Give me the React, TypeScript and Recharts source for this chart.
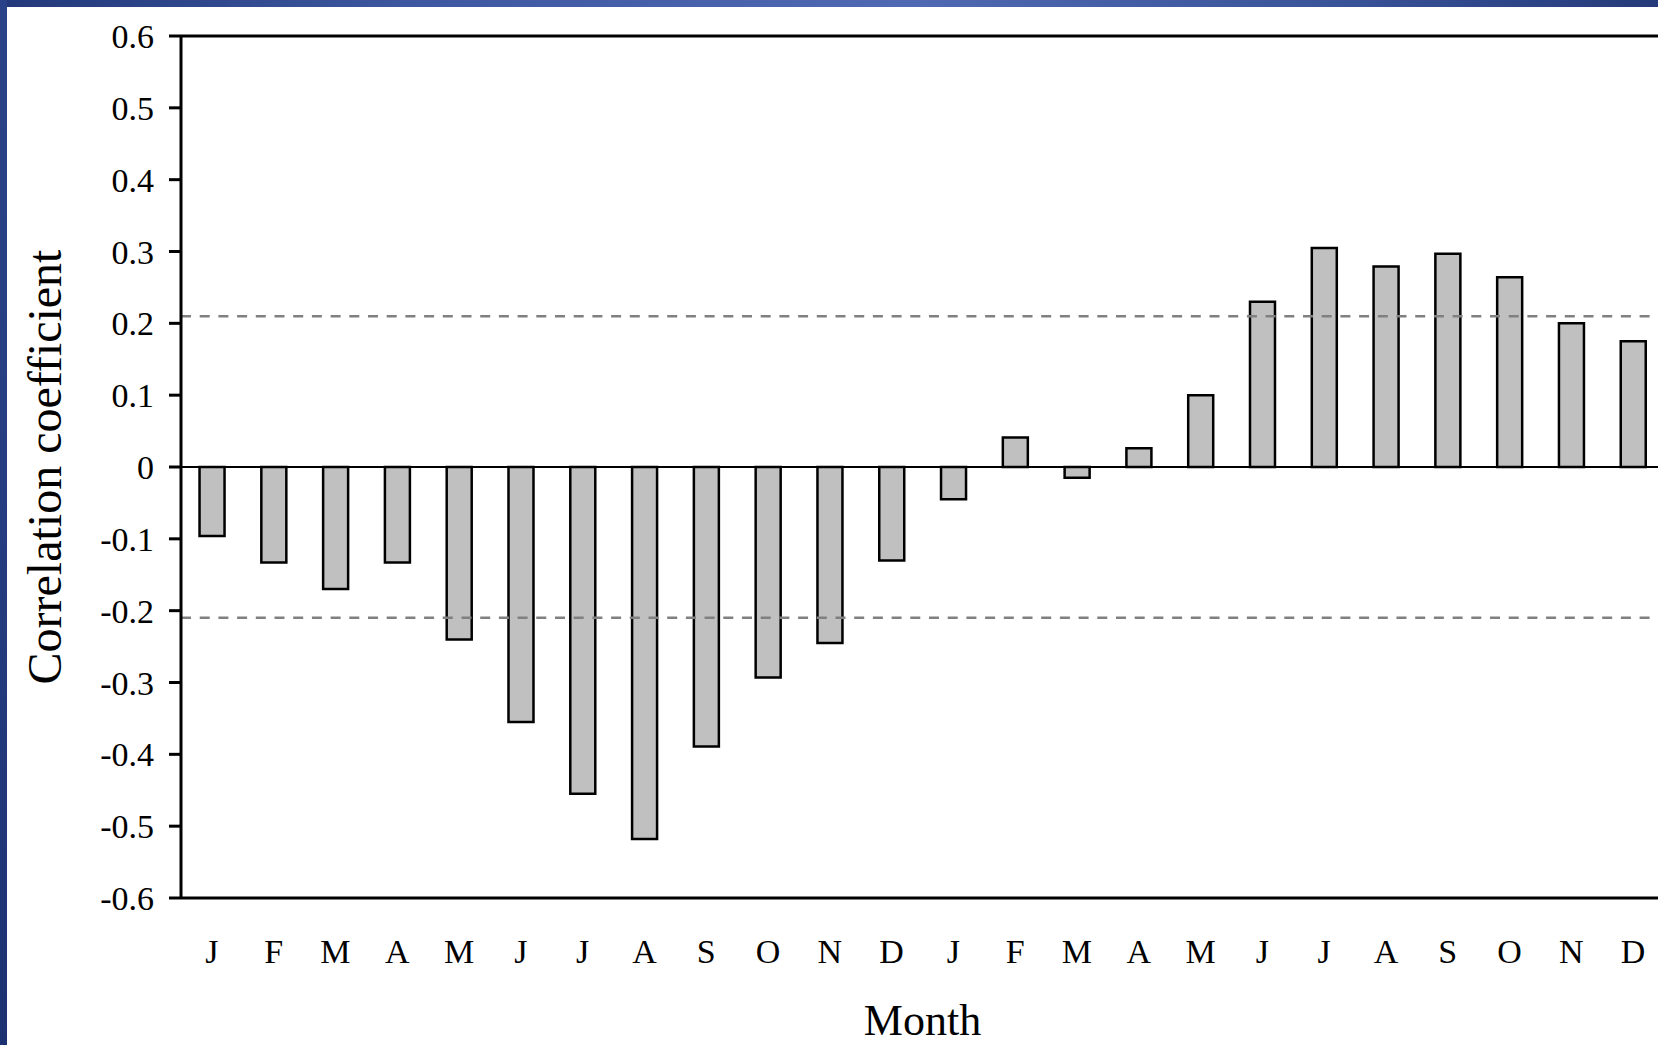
import { Bar, BarChart, Label, ReferenceLine, XAxis, YAxis } from 'recharts';

const months = ['J', 'F', 'M', 'A', 'M', 'J', 'J', 'A', 'S', 'O', 'N', 'D', 'J', 'F', 'M', 'A', 'M', 'J', 'J', 'A', 'S', 'O', 'N', 'D'];
const correlation = [
  -0.096, -0.133, -0.17, -0.133, -0.24, -0.355, -0.455, -0.518, -0.389, -0.293, -0.245, -0.13,
  -0.045, 0.041, -0.015, 0.026, 0.1, 0.23, 0.305, 0.279, 0.297, 0.264, 0.2, 0.175,
];
const yTicks = [-0.6, -0.5, -0.4, -0.3, -0.2, -0.1, 0, 0.1, 0.2, 0.3, 0.4, 0.5, 0.6];
const significance = [0.21, -0.21];

const data = months.map((month, i) => ({ idx: i, month, r: correlation[i] }));

const serif = '"Liberation Serif", "Times New Roman", serif';
const tickStyle = { fontSize: 34, fontFamily: serif, fill: '#000' };

export default function App() {
  return (
    <div style={{ position: 'fixed', left: 0, top: 0, width: 1658, height: 1045, overflow: 'hidden', background: '#fff' }}>
      <BarChart
        width={1700}
        height={1045}
        data={data}
        margin={{ top: 36, right: 36, bottom: 0, left: 0 }}
        barCategoryGap="30%"
      >
        <XAxis
          dataKey="idx"
          height={147}
          tickFormatter={(i: number) => months[i]}
          tick={tickStyle}
          tickSize={0}
          tickMargin={41}
          axisLine={{ stroke: '#000', strokeWidth: 3 }}
          interval={0}
          label={
            <Label
              content={(props: any) => {
                const vb = props.viewBox;
                return (
                  <text
                    x={vb.x + vb.width / 2}
                    y={1035}
                    textAnchor="middle"
                    fontSize={44}
                    fontFamily={serif}
                    fill="#000"
                  >
                    Month
                  </text>
                );
              }}
            />
          }
        />
        <YAxis
          width={181}
          domain={[-0.6, 0.6]}
          ticks={yTicks}
          interval={0}
          tickFormatter={(v: number) => (v === 0 ? '0' : v.toFixed(1))}
          tick={tickStyle}
          tickSize={12}
          tickMargin={15}
          tickLine={{ stroke: '#000', strokeWidth: 3 }}
          axisLine={{ stroke: '#000', strokeWidth: 3 }}
          label={
            <Label
              content={(props: any) => {
                const vb = props.viewBox;
                const cy = vb.y + vb.height / 2;
                return (
                  <text
                    x={0}
                    y={0}
                    transform={`translate(44, ${cy}) rotate(-90)`}
                    textAnchor="middle"
                    dominantBaseline="central"
                    fontSize={48}
                    fontFamily={serif}
                    fill="#000"
                  >
                    Correlation coefficient
                  </text>
                );
              }}
            />
          }
        />
        <ReferenceLine y={0.6} stroke="#000" strokeWidth={3} />
        <ReferenceLine y={0} stroke="#000" strokeWidth={2} />
        <Bar dataKey="r" fill="#c0c0c0" stroke="#000" strokeWidth={2.5} isAnimationActive={false} />
        {significance.map((v) => (
          <ReferenceLine key={v} y={v} stroke="#808080" strokeWidth={2.5} strokeDasharray="10 8.7" />
        ))}
      </BarChart>
      <div
        style={{
          position: 'absolute',
          left: 0,
          top: 0,
          width: 1658,
          height: 7,
          background: 'linear-gradient(to right, #22387a 0%, #3d58a0 25%, #4f6ab2 55%, #3a549a 80%, #253a7a 100%)',
        }}
      />
      <div
        style={{
          position: 'absolute',
          left: 0,
          top: 0,
          width: 7,
          height: 1045,
          background: 'linear-gradient(to bottom, #2a4388 0%, #253d80 50%, #1c3172 100%)',
        }}
      />
    </div>
  );
}
